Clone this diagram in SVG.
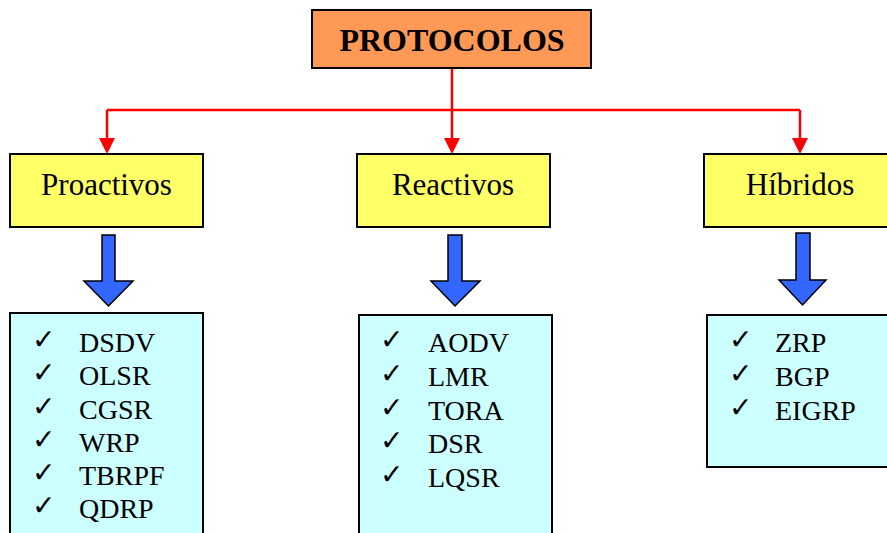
<svg xmlns="http://www.w3.org/2000/svg" width="887" height="533" viewBox="0 0 887 533">
  <style>
    .box { stroke: #000; stroke-width: 2; }
    .root { fill: #FF9955; }
    .cat { fill: #FFFF66; }
    .list { fill: #CCFFFF; }
    .title { font-family: "Liberation Serif", "Times New Roman", serif; font-weight: bold; font-size: 32px; fill: #000; }
    .label { font-family: "Liberation Serif", "Times New Roman", serif; font-size: 31px; fill: #000; }
    .item { font-family: "Liberation Serif", "Times New Roman", serif; font-size: 28px; fill: #000; }
    .chk { font-family: "DejaVu Sans", sans-serif; font-size: 28px; font-weight: bold; fill: #000; }
    .red { stroke: #FF0000; stroke-width: 2.5; fill: none; }
    .blue { fill: #3366FF; stroke: #000; stroke-width: 1.5; stroke-linejoin: miter; }
  </style>

  <!-- connectors -->
  <g id="connectors">
    <path class="red" d="M452,68 V110"/>
    <path class="red" d="M107,110 H800"/>
    <path d="M107,110 V138" class="red"/>
    <path d="M452,110 V138" class="red"/>
    <path d="M800,110 V138" class="red"/>
    <path d="M99,138 L115,138 L107,154 Z" fill="#FF0000"/>
    <path d="M444,138 L460,138 L452,154 Z" fill="#FF0000"/>
    <path d="M792,138 L808,138 L800,154 Z" fill="#FF0000"/>
    <!-- block arrows from categories to their lists -->
    <path class="blue" d="M102,235 H115 V281 H133 L108.5,306 L84,281 H102 Z"/>
    <path class="blue" d="M448,235 H462 V281 H480 L455,306 L431,281 H448 Z"/>
    <path class="blue" d="M796,233 H810 V280 H826 L802.5,305 L779,280 H796 Z"/>
  </g>

  <g id="protocolos">
    <rect class="box root" x="312" y="10" width="279" height="58"/>
    <text class="title" x="452" y="51" text-anchor="middle">PROTOCOLOS</text>
  </g>

  <g id="proactivos">
    <rect class="box cat" x="10" y="154" width="193" height="73"/>
    <text class="label" x="106.5" y="195" text-anchor="middle">Proactivos</text>
  </g>

  <g id="reactivos">
    <rect class="box cat" x="357" y="154" width="193" height="73"/>
    <text class="label" x="453" y="195" text-anchor="middle">Reactivos</text>
  </g>

  <g id="hibridos">
    <rect class="box cat" x="704" y="154" width="200" height="73"/>
    <text class="label" x="800" y="195" text-anchor="middle">Híbridos</text>
  </g>

  <g id="lista-proactivos">
    <rect class="box list" x="10" y="313" width="193" height="240"/>
    <g class="chk">
      <text x="32" y="349">✓</text>
      <text x="32" y="382">✓</text>
      <text x="32" y="416">✓</text>
      <text x="32" y="449">✓</text>
      <text x="32" y="482">✓</text>
      <text x="32" y="515">✓</text>
    </g>
    <g class="item">
      <text x="79" y="352">DSDV</text>
      <text x="79" y="385">OLSR</text>
      <text x="79" y="419">CGSR</text>
      <text x="79" y="452">WRP</text>
      <text x="79" y="485">TBRPF</text>
      <text x="79" y="518">QDRP</text>
    </g>
  </g>

  <g id="lista-reactivos">
    <rect class="box list" x="359" y="315" width="193" height="240"/>
    <g class="chk">
      <text x="380" y="349">✓</text>
      <text x="380" y="383">✓</text>
      <text x="380" y="417">✓</text>
      <text x="380" y="450">✓</text>
      <text x="380" y="484">✓</text>
    </g>
    <g class="item">
      <text x="428" y="352">AODV</text>
      <text x="428" y="386">LMR</text>
      <text x="428" y="420">TORA</text>
      <text x="428" y="453">DSR</text>
      <text x="428" y="487">LQSR</text>
    </g>
  </g>

  <g id="lista-hibridos">
    <rect class="box list" x="707" y="315" width="200" height="152"/>
    <g class="chk">
      <text x="729" y="349">✓</text>
      <text x="729" y="383">✓</text>
      <text x="729" y="417">✓</text>
    </g>
    <g class="item">
      <text x="775" y="352">ZRP</text>
      <text x="775" y="386">BGP</text>
      <text x="775" y="420">EIGRP</text>
    </g>
  </g>
</svg>
